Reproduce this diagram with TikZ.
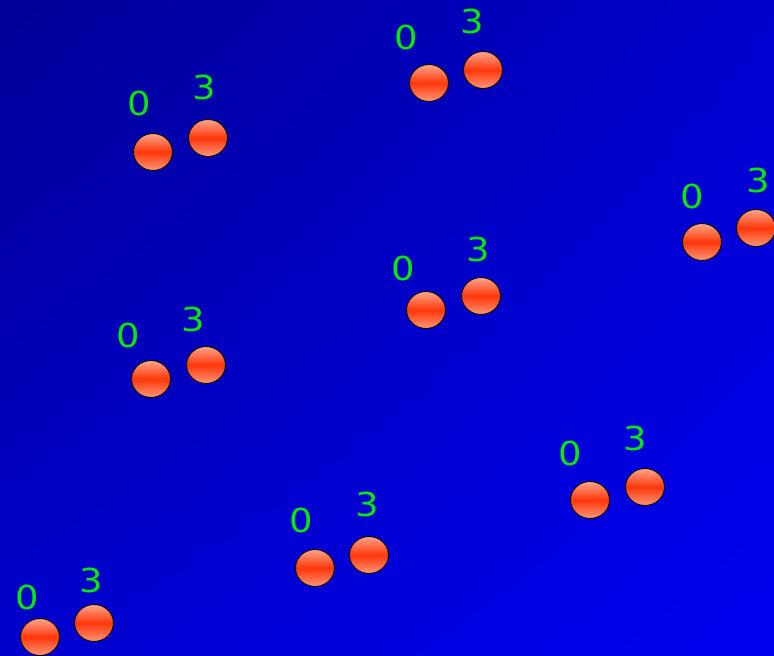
\documentclass[tikz,border=0pt]{standalone}
\usepackage{fontspec}
\setmainfont{DejaVu Sans}
\usepackage{tikz}
\usetikzlibrary{shapes.geometric, shadings}

\definecolor{bgdark}{RGB}{0,0,150}
\definecolor{bgmid}{RGB}{0,0,205}
\definecolor{bglight}{RGB}{0,0,240}
\definecolor{balltop}{RGB}{255,165,140}
\definecolor{ballmid}{RGB}{255,55,10}
\definecolor{ballbot}{RGB}{255,150,120}
\definecolor{digitgreen}{RGB}{10,230,10}

\begin{document}
\begin{tikzpicture}[x=1pt, y=-1pt,
        ball/.style={ellipse, draw=black, line width=0.9pt,
                     minimum width=39pt, minimum height=37pt, inner sep=0pt,
                     top color=balltop, bottom color=ballbot, middle color=ballmid},
        digit/.style={text=digitgreen, font=\fontsize{33}{33}\selectfont,
                      inner sep=0pt, xscale=1.12}
    ]
    \useasboundingbox (0,0) rectangle (774,656);
    \shade[upper left=bgdark, upper right=bgmid, lower left=bgmid, lower right=bglight]
        (0,0) rectangle (774,656);

    % pairs of balls, left one is 0, right one is 3
    \node[ball] (p1a) at (153,152) {};
    \node[ball] (p1b) at (208,138) {};
    \node[digit] (n1a) at (139,103) {0};
    \node[digit] (n1b) at (204,87)  {3};

    \node[ball] (p2a) at (429,83) {};
    \node[ball] (p2b) at (483,70) {};
    \node[digit] (n2a) at (406,37) {0};
    \node[digit] (n2b) at (472,21) {3};

    \node[ball] (p3a) at (702,242) {};
    \node[ball] (p3b) at (756,228) {};
    \node[digit] (n3a) at (692,196) {0};
    \node[digit] (n3b) at (758,180) {3};

    \node[ball] (p4a) at (426,310) {};
    \node[ball] (p4b) at (481,296) {};
    \node[digit] (n4a) at (403,268) {0};
    \node[digit] (n4b) at (478,249) {3};

    \node[ball] (p5a) at (151,379) {};
    \node[ball] (p5b) at (206,365) {};
    \node[digit] (n5a) at (128,335) {0};
    \node[digit] (n5b) at (193,319) {3};

    \node[ball] (p6a) at (590,500) {};
    \node[ball] (p6b) at (645,487) {};
    \node[digit] (n6a) at (570,453) {0};
    \node[digit] (n6b) at (635,438) {3};

    \node[ball] (p7a) at (315,568) {};
    \node[ball] (p7b) at (369,555) {};
    \node[digit] (n7a) at (301,520) {0};
    \node[digit] (n7b) at (367,504) {3};

    \node[ball] (p8a) at (40,637) {};
    \node[ball] (p8b) at (94,623) {};
    \node[digit] (n8a) at (27,597) {0};
    \node[digit] (n8b) at (91,580) {3};
\end{tikzpicture}
\end{document}
